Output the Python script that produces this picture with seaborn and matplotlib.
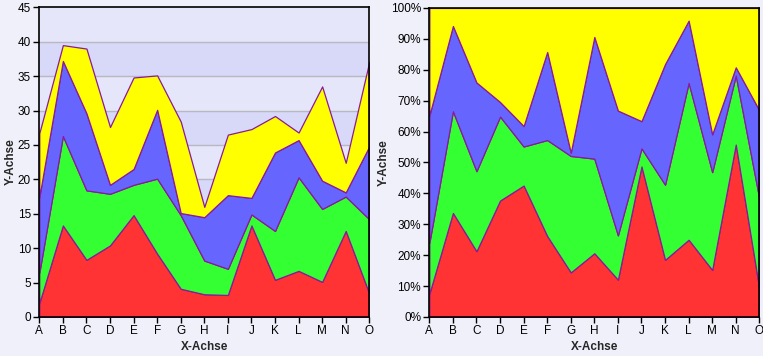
import numpy as np
import matplotlib
matplotlib.use("Agg")
import matplotlib.pyplot as plt
from matplotlib.ticker import PercentFormatter, MultipleLocator
import seaborn as sns

sns.set_style("white")
plt.rcParams["font.family"] = ["Liberation Sans", "DejaVu Sans"]

# ── Data ──────────────────────────────────────────────────────
categories = list("ABCDEFGHIJKLMNO")
red = [2.0, 13.3, 8.3, 10.4, 14.8, 9.2, 4.1, 3.3, 3.2, 13.3, 5.4, 6.7, 5.1, 12.5, 3.4]
green = [4.4, 13.0, 10.1, 7.5, 4.4, 10.9, 10.7, 4.9, 3.8, 1.6, 7.1, 13.6, 10.6, 5.0, 10.8]
blue = [11.0, 10.9, 11.2, 1.3, 2.3, 10.0, 0.3, 6.3, 10.7, 2.4, 11.4, 5.4, 4.1, 0.6, 10.6]
yellow = [9.3, 2.3, 9.4, 8.4, 13.3, 5.0, 13.3, 1.5, 8.8, 10.0, 5.3, 1.1, 13.7, 4.3, 12.3]

COLORS = ["#ff3333", "#33ff33", "#6666ff", "#ffff00"]
EDGE = "#8a1a9a"
BG = "#f0f0fa"

series = np.array([red, green, blue, yellow])
x = np.arange(len(categories))
share = series / series.sum(axis=0)

fig = plt.figure(figsize=(7.63, 3.56), dpi=100)
fig.patch.set_facecolor(BG)
ax1 = fig.add_axes([0.0515, 0.1096, 0.4325, 0.870])
ax2 = fig.add_axes([0.5627, 0.1096, 0.4325, 0.868])


def style_axis(ax):
    ax.set_xlim(0, len(categories) - 1)
    ax.set_xticks(x)
    ax.set_xticklabels(categories)
    for s in ax.spines.values():
        s.set_color("black")
        s.set_linewidth(1.2)
    ax.tick_params(axis="both", direction="out", length=4, width=1,
                   labelsize=8.5, colors="black", pad=2)
    ax.tick_params(bottom=True, left=True)
    ax.set_xlabel("X-Achse", fontsize=8.5, fontweight="bold", labelpad=3)
    ax.set_ylabel("Y-Achse", fontsize=8.5, fontweight="bold", labelpad=1)


# ── Left: stacked area ────────────────────────────────────────
for lo in range(0, 45, 5):
    ax1.axhspan(lo, lo + 5, color="#d8d8f8" if (lo // 5) % 2 == 1 else "#e6e6fa",
                zorder=0, lw=0)
for lvl in range(5, 45, 5):
    ax1.axhline(lvl, color="#b8b8c0", lw=1, zorder=0.5)
ax1.stackplot(x, series, colors=COLORS, edgecolor=EDGE, linewidth=0.9, zorder=2)
ax1.set_ylim(0, 45)
ax1.yaxis.set_major_locator(MultipleLocator(5))
style_axis(ax1)

# ── Right: 100% stacked area ──────────────────────────────────
ax2.set_facecolor("#e6e6fa")
ax2.stackplot(x, share, colors=COLORS, edgecolor=EDGE, linewidth=0.9, zorder=2)
ax2.set_ylim(0, 1)
ax2.yaxis.set_major_locator(MultipleLocator(0.1))
ax2.yaxis.set_major_formatter(PercentFormatter(1.0, decimals=0))
style_axis(ax2)

plt.savefig("out.png", dpi=100, facecolor=fig.get_facecolor())
plt.close()
